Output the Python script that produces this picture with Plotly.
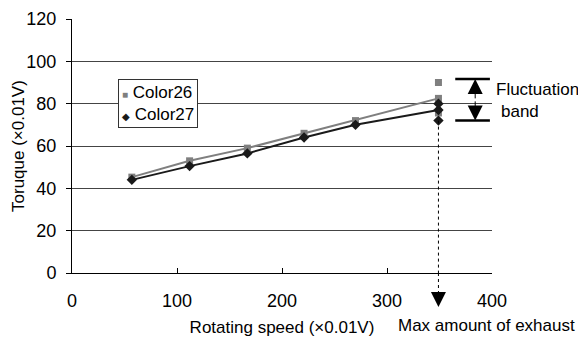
import plotly.graph_objects as go

speed = [57, 112, 167, 221, 270, 349]
color26 = [45.3, 53, 59, 66, 72, 82.5]
color27 = [44, 50.5, 56.5, 64, 70, 77]
extra_x = [349, 349]
extra26 = [90, 75.6]
extra27 = [80, 72]
band_top, band_bottom = 91.6, 72
band_x = [365, 398]
band_arrow_x = 384
x_ticks = [0, 100, 200, 300, 400]
y_ticks = [0, 20, 40, 60, 80, 100, 120]

FONT = "Liberation Sans, Arial, sans-serif"
GRAY = "#7f7f7f"
BLACK = "#1a1a1a"

fig = go.Figure()
# trend lines
fig.add_trace(go.Scatter(x=speed, y=color26, mode="lines", showlegend=False,
                         line=dict(color=GRAY, width=2)))
fig.add_trace(go.Scatter(x=speed, y=color27, mode="lines", showlegend=False,
                         line=dict(color=BLACK, width=2)))
# markers
fig.add_trace(go.Scatter(x=speed + extra_x, y=color26 + extra26, mode="markers",
                         name="Color26", showlegend=False,
                         marker=dict(symbol="square", size=7, color=GRAY)))
fig.add_trace(go.Scatter(x=speed + extra_x, y=color27 + extra27, mode="markers",
                         name="Color27", showlegend=False,
                         marker=dict(symbol="diamond", size=8, color=BLACK)))

# manual compact legend
fig.add_annotation(
    x=0.1095, y=0.764, xref="paper", yref="paper", xanchor="left", yanchor="top",
    align="left", showarrow=False,
    text=("<span style='font-size:10px;fill:%s'>■</span> Color26<br>"
          "<span style='font-size:10px;fill:%s'>◆</span> Color27") % (GRAY, BLACK),
    font=dict(family=FONT, size=17, color="black"),
    bgcolor="white", bordercolor="#333", borderwidth=1, borderpad=3,
)

# fluctuation band lines
for yv in (band_top, band_bottom):
    fig.add_shape(type="line", x0=band_x[0], x1=band_x[1], y0=yv, y1=yv,
                  line=dict(color="black", width=2.5))
mid = (band_top + band_bottom) / 2
for yv in (band_top, band_bottom):
    fig.add_annotation(x=band_arrow_x, y=yv, ax=band_arrow_x, ay=mid,
                       xref="x", yref="y", axref="x", ayref="y", text="",
                       showarrow=True, arrowhead=2, arrowsize=3, arrowwidth=1,
                       arrowcolor="black")
fig.add_annotation(x=1.005, y=86.5, xref="paper", yref="y", text="Fluctuation",
                   showarrow=False, xanchor="left", yanchor="middle",
                   font=dict(family=FONT, size=17, color="black"))
fig.add_annotation(x=1.017, y=76.5, xref="paper", yref="y", text="band",
                   showarrow=False, xanchor="left", yanchor="middle",
                   font=dict(family=FONT, size=17, color="black"))

# max exhaust dotted line + arrow
fig.add_shape(type="line", x0=extra_x[0], x1=extra_x[0], y0=extra27[1], y1=0,
              xref="x", yref="y", line=dict(color="black", width=1, dash="dot"))
fig.add_shape(type="line", x0=extra_x[0], x1=extra_x[0], y0=0, y1=-0.09,
              xref="x", yref="paper", line=dict(color="black", width=1, dash="dot"))
fig.add_annotation(x=extra_x[0], y=-0.134, ax=0, ay=-11,
                   xref="x", yref="paper", text="",
                   showarrow=True, arrowhead=2, arrowsize=3, arrowwidth=1,
                   arrowcolor="black")
fig.add_annotation(x=0.986, y=-0.205, xref="paper", yref="paper",
                   text="Max amount of exhaust", showarrow=False,
                   xanchor="center", yanchor="middle",
                   font=dict(family=FONT, size=17, color="black"))
# y axis title as annotation
fig.add_annotation(x=-0.1286, y=0.5, xref="paper", yref="paper",
                   text="Toruque (×0.01V)", showarrow=False, textangle=-90,
                   xanchor="center", yanchor="middle",
                   font=dict(family=FONT, size=17, color="black"))

fig.update_layout(
    width=578, height=338,
    margin=dict(l=72, r=86, t=19, b=65),
    paper_bgcolor="white", plot_bgcolor="white",
    font=dict(family=FONT, size=17, color="black"),
    showlegend=False,
    xaxis=dict(range=[0, 400], tickvals=x_ticks, showgrid=False, zeroline=False,
               showline=True, linecolor="black", linewidth=1, automargin=False,
               ticks="inside", ticklen=5, tickcolor="black",
               ticklabelstandoff=11,
               title=dict(text="Rotating speed (×0.01V)", font=dict(size=17), standoff=11),
               tickfont=dict(size=18)),
    yaxis=dict(range=[0, 120], tickvals=y_ticks, showgrid=True, gridcolor="#444",
               gridwidth=1, zeroline=False, showline=True, linecolor="black",
               linewidth=1, ticks="outside", ticklen=5, tickcolor="black",
               automargin=False, ticklabelstandoff=6,
               tickfont=dict(size=18)),
)

fig.write_html(
    "out.html",
    config={"displayModeBar": False},
    post_script="document.body.style.margin='0';document.body.style.overflow='hidden';",
)
